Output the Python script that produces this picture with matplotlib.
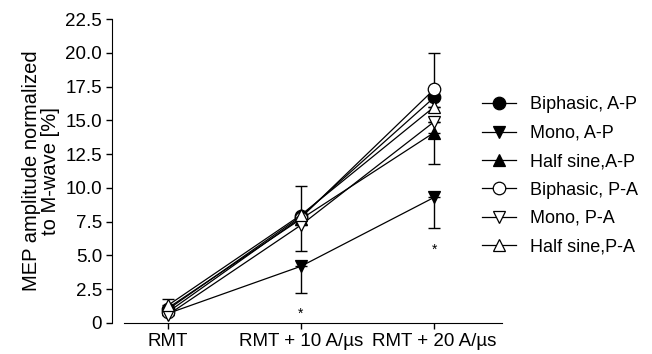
import matplotlib.pyplot as plt
import numpy as np

plt.rcParams['font.family'] = ['Liberation Sans', 'DejaVu Sans']

# conditions on the x axis
conditions = ["RMT", "RMT + 10 A/\u00b5s", "RMT + 20 A/\u00b5s"]

# mean MEP amplitude (% of M-wave)
biphasic_ap = [1.0, 7.9, 16.7]
mono_ap = [0.7, 4.2, 9.3]
halfsine_ap = [1.1, 7.7, 14.1]
biphasic_pa = [0.8, 7.8, 17.3]
mono_pa = [0.6, 7.25, 14.9]
halfsine_pa = [1.3, 8.0, 16.0]

# error bars (only the visible halves)
biphasic_ap_err = [[0, 0, 0], [0, 0, 0]]
mono_ap_err = [[0, 2.0, 2.3], [0, 0, 0]]
halfsine_ap_err = [[0, 0, 2.3], [0, 0, 0]]
biphasic_pa_err = [[0, 0, 0], [0, 0, 2.7]]
mono_pa_err = [[0, 1.95, 0], [0, 0, 0]]
halfsine_pa_err = [[0, 0, 0], [0.5, 2.15, 0]]

# significance stars
star_x = [1, 2]
star_y = [0.7, 5.4]

x = np.arange(len(conditions))

fig = plt.figure(figsize=(6.52, 3.54), dpi=100)
ax = fig.add_axes([0.190, 0.0876, 0.580, 0.8584])

# spines first: set_position resets the ticks
ax.spines['top'].set_visible(False)
ax.spines['right'].set_visible(False)
ax.spines['left'].set_position(('outward', 8.6))

series = [
    (biphasic_ap, biphasic_ap_err, 'o', 'black', "Biphasic, A-P"),
    (mono_ap, mono_ap_err, 'v', 'black', "Mono, A-P"),
    (halfsine_ap, halfsine_ap_err, '^', 'black', "Half sine,A-P"),
    (biphasic_pa, biphasic_pa_err, 'o', 'white', "Biphasic, P-A"),
    (mono_pa, mono_pa_err, 'v', 'white', "Mono, P-A"),
    (halfsine_pa, halfsine_pa_err, '^', 'white', "Half sine,P-A"),
]

for y, err, m, fc, lab in series:
    ax.errorbar(x, y, yerr=err, fmt='none', ecolor='black', elinewidth=1.0,
                capsize=4, capthick=1.0, zorder=2)
    ax.plot(x, y, color='black', linewidth=0.9, marker=m, markersize=9,
            markerfacecolor=fc, markeredgecolor='black', markeredgewidth=0.9,
            label=lab, zorder=3)

for sx, sy in zip(star_x, star_y):
    ax.text(sx, sy, "*", ha='center', va='center', fontsize=10)

ax.set_xlim(-0.33, 2.51)
ax.set_ylim(0, 22.5)
ax.set_xticks(x)
ax.set_xticklabels(conditions, fontsize=13.5)
yt = np.arange(0, 22.6, 2.5)
ax.set_yticks(yt)
ax.set_yticklabels(["0"] + ["%.1f" % v for v in yt[1:]], fontsize=13.5)
ax.set_ylabel("MEP amplitude normalized\nto M-wave [%]", fontsize=14.5,
              linespacing=1.0, labelpad=4, multialignment='center')
ax.tick_params(axis='both', direction='out', length=4, width=1, pad=3)

ax.legend(loc='center left', bbox_to_anchor=(0.905, 0.484), frameon=False,
          fontsize=13, handlelength=1.85, labelspacing=0.63, handletextpad=0.8)

fig.savefig('out.png', dpi=100)
